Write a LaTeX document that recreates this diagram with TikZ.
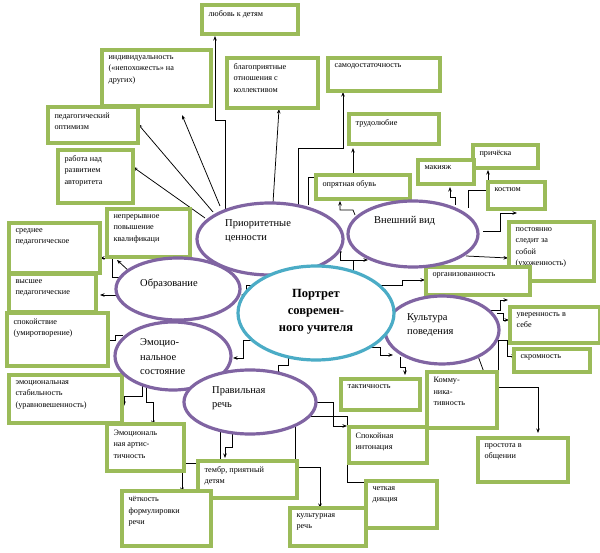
\documentclass[tikz,border=0pt]{standalone}
\usepackage{fontspec}
\setmainfont{Liberation Serif}
\usetikzlibrary{fit,arrows.meta,shapes.geometric}
\definecolor{gr}{HTML}{9BBB59}
\definecolor{pu}{HTML}{8064A2}
\definecolor{cy}{HTML}{4BACC6}
\begin{document}
\begin{tikzpicture}[x=1pt,y=-1pt,
 box/.style={draw=gr,line width=3.2pt,fill=white,inner sep=0pt},
 btx/.style={inner sep=0pt,align=left,font=\fontsize{8.2}{11.5}\selectfont},
 ell/.style={draw=pu,line width=3.2pt,fill=white,ellipse,inner sep=0pt},
 etx/.style={inner sep=0pt,align=left,font=\fontsize{10.5}{14.5}\selectfont},
 ar/.style={line width=0.75pt,-{Stealth[length=4.5pt,width=3.5pt]}}]
\useasboundingbox (0,0) rectangle (600,553);
\fill[white] (0,0) rectangle (600,553);
\newcommand\bx[6]{\node[box,fit={(#2,#3)(#4,#5)}] (#1) {};
 \node[btx,anchor=north west] at ([xshift=8pt,yshift=-7pt]#1.north west) {#6};}
% ---- connectors
\draw[ar] (225,210) -- (225,120) -- (215,120) -- (215,36);
\draw[ar] (220,206) -- (182,115);
\draw[ar] (213,212) -- (138,124);
\draw[ar] (205,218) -- (133,167);
\draw[ar] (273,203) -- (279,109);
\draw[ar] (298,205) -- (298,148) -- (343,148) -- (343,92);
\draw[ar] (308,205) -- (308,177) -- (353,177) -- (353,148);
\draw[ar] (355,215) -- (353,210) -- (340,210) -- (340,201);
\draw[ar] (353,272) -- (353,260) -- (340,260) -- (340,248);
\draw[ar] (353,260) -- (368,260);
\draw[ar] (455,205) -- (455,197) -- (450,197) -- (450,187);
\draw[ar] (468,208) -- (468,190) -- (488,190) -- (488,170);
\draw[ar] (483,231) -- (500,231) -- (500,213) -- (517,213);
\draw[ar] (466,256) -- (508,258);
\draw[ar] (380,285) -- (402,285) -- (402,280) -- (425,280);
\draw[ar] (490,310) -- (500,310) -- (500,300) -- (508,300);
\draw[ar] (497,313) -- (503,313) -- (503,320) -- (509,320);
\draw[ar] (498,340) -- (507,340) -- (507,356) -- (516,356);
\draw[ar] (498,340) -- (498,387) -- (538,387) -- (538,433);
\draw[ar] (478,356) -- (485,375);
\draw[ar] (370,347) -- (380,347) -- (380,355) -- (393,355);
\draw[ar] (400,357) -- (400,367) -- (405,367) -- (405,375);
\draw[ar] (312,402) -- (333,402) -- (333,426) -- (347,426);
\draw[ar] (305,416) -- (347,416) -- (347,482) -- (385,482);
\draw[ar] (295,425) -- (295,467) -- (320,467) -- (320,508);
\draw[ar] (232,430) -- (232,447) -- (225,447) -- (225,458);
\draw[ar] (220,430) -- (220,463) -- (182,463) -- (182,492);
\draw[ar] (142,385) -- (142,396) -- (124,396) -- (124,406);
\draw[ar] (146,388) -- (146,402) -- (153,402) -- (153,425);
\draw[ar] (123,335) -- (115,335) -- (115,340) -- (105,340);
\draw[ar] (118,295) -- (100,295);
\draw[ar] (130,272) -- (117,260);
\draw[ar] (122,277) -- (112,277) -- (112,258) -- (100,258);
\draw[ar] (252,285) -- (246,285) -- (246,295) -- (241,295);
\draw[ar] (253,340) -- (243,340) -- (243,358) -- (233,358);
\draw[ar] (288,357) -- (288,365) -- (278,365) -- (278,376);
% ---- boxes
\bx{b1}{202}{5}{298}{34}{любовь к детям}
\bx{b2}{102}{50}{211}{106}{индивидуальность\\(«непохожесть» на\\других)}
\bx{b3}{227}{58}{318}{108}{благоприятные\\отношения с\\коллективом}
\bx{b4}{328}{58}{440}{91}{самодостаточность}
\bx{b5}{48}{107}{138}{143}{педагогический\\оптимизм}
\bx{b6}{349}{114}{439}{144}{трудолюбие}
\bx{b7}{58}{150}{133}{203}{работа над\\развитием\\авторитета}
\bx{b8}{473}{145}{538}{168}{причёска}
\bx{b9}{418}{160}{474}{184}{макияж}
\bx{b10}{316}{175}{410}{199}{опрятная обувь}
\bx{b11}{488}{182}{545}{209}{костюм}
\bx{b12}{107}{209}{190}{257}{непрерывное\\повышение\\квалификаци}
\bx{b13}{9}{223}{100}{273}{среднее\\педагогическое}
\bx{b14}{509}{222}{594}{281}{постоянно\\следит за\\собой\\(ухоженность)}
\bx{b15}{9}{274}{96}{312}{высшее\\педагогические}
\bx{b16}{426}{267}{530}{295}{организованность}
\bx{b17}{510}{307}{600}{343}{уверенность в\\себе}
\bx{b18}{7}{313}{108}{366}{спокойствие\\(умиротворение)}
\bx{b19}{514}{349}{590}{372}{скромность}
\bx{b20}{341}{379}{420}{410}{тактичность}
\bx{b21}{427}{372}{497}{428}{Комму-\\ника-\\тивность}
\bx{b22}{9}{375}{122}{423}{эмоциональная\\стабильность\\(уравновешенность)}
\bx{b23}{107}{424}{184}{471}{Эмоциональ\\ная артис-\\тичность}
\bx{b24}{349}{427}{427}{463}{Спокойная\\интонация}
\bx{b25}{198}{461}{297}{498}{тембр, приятный\\детям}
\bx{b26}{478}{438}{568}{482}{простота в\\общении}
\bx{b27}{122}{491}{211}{546}{чёткость\\формулировки\\речи}
\bx{b28}{366}{481}{437}{528}{четкая\\дикция}
\bx{b29}{290}{508}{366}{546}{культурная\\речь}
% ---- ellipses
\node[ell,minimum width=146pt,minimum height=72pt] (pc) at (270,239) {};
\node[etx,anchor=west] at (225,231) {Приоритетные\\ценности};
\node[ell,minimum width=130pt,minimum height=66pt] (vv) at (413,234) {};
\node[etx,anchor=west] at (374,221) {Внешний вид};
\node[ell,minimum width=124pt,minimum height=62pt] (obr) at (178,289) {};
\node[etx,anchor=west] at (140,284) {Образование};
\node[ell,minimum width=116pt,minimum height=68pt] (em) at (173,356) {};
\node[etx,anchor=west] at (140,357) {Эмоцио-\\нальное\\состояние};
\node[ell,minimum width=132pt,minimum height=64pt] (pr) at (250,402) {};
\node[etx,anchor=west] at (212,398) {Правильная\\речь};
\node[ell,minimum width=114pt,minimum height=68pt] (kp) at (442,330) {};
\node[etx,anchor=west] at (407,325) {Культура\\поведения};
\node[ell,draw=cy,minimum width=156pt,minimum height=94pt] (c) at (316,313) {};
\node[inner sep=0pt,align=center,font=\bfseries\fontsize{12.5}{17}\selectfont] at (316,312) {Портрет\\современ-\\ного учителя};
\end{tikzpicture}
\end{document}
